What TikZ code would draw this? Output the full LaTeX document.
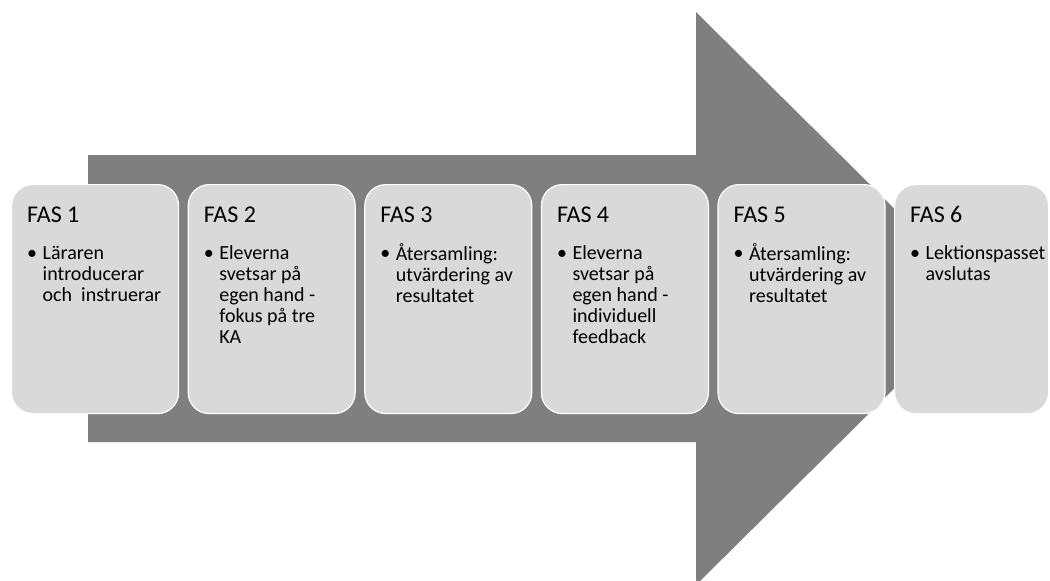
\documentclass[tikz,border=0pt]{standalone}
\usepackage{fontspec}
\setmainfont{Carlito}
\definecolor{arrowgray}{HTML}{7F7F7F}
\definecolor{boxgray}{HTML}{D9D9D9}
\tikzset{
  x=1pt, y=-1pt,
  phase/.style={draw=white, line width=1.2pt, fill=boxgray, rounded corners=21pt,
    minimum width=167pt, minimum height=229pt, anchor=north west, inner sep=0pt},
  title/.style={anchor=base west, inner sep=0pt, font=\fontsize{24}{28}\selectfont},
  bul/.style={anchor=base west, inner sep=0pt, font=\fontsize{20}{20}\selectfont},
  body/.style={anchor=north west, inner sep=0pt, align=left, font=\fontsize{20}{21}\selectfont},
}
\newcommand{\fst}{\rule{0pt}{16pt}}
\begin{document}
\begin{tikzpicture}
\useasboundingbox (0,0) rectangle (1050,581);
\clip (0,0) rectangle (1050,581);
\fill[arrowgray] (88,155) -- (696,155) -- (696,12) -- (985,298.5) -- (696,585) -- (696,442) -- (88,442) -- cycle;
\foreach \i/\x/\txt in {1/11/{Läraren\\introducerar\\och\ \ instruerar},
                       2/187.6/{Eleverna\\svetsar på\\egen hand -\\fokus på tre\\KA},
                       3/364.2/{Återsamling:\\utvärdering av\\resultatet},
                       4/540.8/{Eleverna\\svetsar på\\egen hand -\\individuell\\feedback},
                       5/717.4/{Återsamling:\\utvärdering av\\resultatet}} {
  \node[phase] (b\i) at (\x,184) {};
  \node[title] (t\i) at ([shift={(16,38)}]b\i.north west) {FAS \i};
  \node[bul] (u\i) at ([shift={(16,75)}]b\i.north west) {•};
  \node[body] (x\i) at ([shift={(31.5,59)}]b\i.north west) {\fst\txt};
}
\node[phase, minimum width=154pt] (b6) at (894,184) {};
\node[title] (t6) at ([shift={(16,38)}]b6.north west) {FAS 6};
\node[bul] (u6) at ([shift={(16,75)}]b6.north west) {•};
\node[body] (x6) at ([shift={(31.5,59)}]b6.north west) {\fst Lektionspasset\\avslutas};
\end{tikzpicture}
\end{document}
